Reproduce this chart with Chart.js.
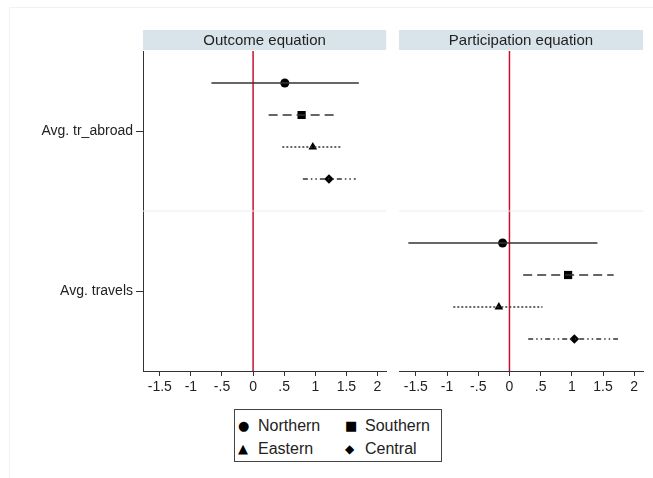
<!DOCTYPE html>
<html>
<head>
<meta charset="utf-8">
<script src="https://cdn.jsdelivr.net/npm/chart.js@4"></script>
<style>
  body { margin: 0; background: #fff; font-family: 'Liberation Sans', Arial, sans-serif; }
  #wrap { position: relative; width: 653px; height: 478px; overflow: hidden; }
  #frame { position: absolute; left: 9px; top: 7px; width: 700px; height: 500px; border: 1px solid #eef3f3; }
  canvas { position: absolute; top: 0; }
  #legend { position: absolute; left: 234px; top: 409px; width: 206px; height: 51px; border: 1px solid #444; }
  .item { position: absolute; font-size: 16px; color: #222; line-height: 18px; }
  .mk { position: absolute; font-family: 'DejaVu Sans'; color: #000; line-height: 18px; }
</style>
</head>
<body>
<div id="wrap">
  <div id="frame"></div>
  <canvas id="outcome" width="392" height="400" style="left:0"></canvas>
  <canvas id="participation" width="260" height="400" style="left:393px"></canvas>
  <div id="legend"></div>
</div>
<script>
const groups = ['Northern', 'Southern', 'Eastern', 'Central'];
const outcomePoint = [0.51, 0.78, 0.96, 1.22];
const outcomeLow = [-0.67, 0.25, 0.47, 0.80];
const outcomeHigh = [1.70, 1.31, 1.43, 1.65];
const participationPoint = [-0.11, 0.94, -0.17, 1.04];
const participationLow = [-1.62, 0.22, -0.90, 0.30];
const participationHigh = [1.41, 1.67, 0.53, 1.74];
const outcomeRows = [1, 2, 3, 4];
const participationRows = [6, 7, 8, 9];
const rowLabels = ['Avg. tr_abroad', 'Avg. travels'];
const labelRows = [2.5, 7.5];
const xTicks = [-1.5, -1, -0.5, 0, 0.5, 1, 1.5, 2];

const styles = ['circle', 'rect', 'triangle', 'rectRot'];
const radii = [4.5, 5.8, 5, 4.8];
const dashes = [[], [9, 5], [2, 2], [5, 3, 1.5, 3, 1.5, 3]];
const glyphs = ['\u25CF', '\u25A0', '\u25B2', '\u25C6'];

Chart.defaults.font.family = "'Liberation Sans', Arial, sans-serif";
Chart.defaults.color = '#222';

const stripBg = {
  id: 'stripBg',
  beforeDraw(chart) {
    const t = chart.titleBlock;
    if (!t) return;
    chart.ctx.save();
    chart.ctx.fillStyle = '#d9e4ea';
    chart.ctx.fillRect(t.left, t.top, t.width, t.height - 1);
    chart.ctx.restore();
  }
};

function fmt(v) {
  return v === 0 ? '0' : String(v).replace('0.', '.');
}

function makeChart(id, title, points, lows, highs, rows, showY, pad) {
  const ds = [];
  ds.push({ type: 'line', data: [{x: -1.77, y: 5}, {x: 2.14, y: 5}], borderColor: '#e6eef0', borderWidth: 1, pointRadius: 0 });
  groups.forEach((g, i) => {
    ds.push({
      type: 'line', label: g,
      data: [{x: lows[i], y: rows[i]}, {x: highs[i], y: rows[i]}],
      borderColor: '#333', borderWidth: 1.5, borderDash: dashes[i], pointRadius: 0
    });
  });
  ds.push({ type: 'line', data: [{x: 0, y: 0}, {x: 0, y: 10}], borderColor: '#c8102e', borderWidth: 1.5, pointRadius: 0 });
  groups.forEach((g, i) => {
    ds.push({
      type: 'scatter', label: g,
      data: [{x: points[i], y: rows[i]}],
      pointStyle: styles[i], pointRadius: radii[i],
      backgroundColor: '#000', borderColor: '#000', borderWidth: 0
    });
  });

  return new Chart(document.getElementById(id), {
    type: 'scatter',
    data: { datasets: ds },
    plugins: [stripBg],
    options: {
      responsive: false,
      animation: false,
      devicePixelRatio: 1,
      layout: { padding: pad },
      plugins: {
        legend: { display: false },
        tooltip: { enabled: false },
        title: {
          display: true, text: title, fullSize: false,
          font: { size: 15, weight: 'normal' }, color: '#222',
          padding: { top: 2, bottom: 1 }
        }
      },
      scales: {
        x: {
          type: 'linear', min: -1.77, max: 2.14,
          afterBuildTicks: s => { s.ticks = xTicks.map(v => ({ value: v })); },
          afterFit: s => { s.height = 29; },
          border: { display: true, color: '#333', width: 1 },
          grid: { drawOnChartArea: false, tickLength: 5, tickColor: '#333' },
          ticks: { font: { size: 14 }, color: '#222', padding: 3, maxRotation: 0, callback: v => fmt(v) }
        },
        y: {
          type: 'linear', min: 0, max: 10, reverse: true,
          display: showY,
          afterBuildTicks: s => { s.ticks = labelRows.map(v => ({ value: v })); },
          afterFit: s => { s.width = showY ? 143 : 0; },
          border: { display: true, color: '#333', width: 1 },
          grid: { drawOnChartArea: false, tickLength: 7, tickColor: '#333' },
          ticks: { font: { size: 14 }, color: '#222', padding: 3, callback: v => rowLabels[labelRows.indexOf(v)] }
        }
      }
    }
  });
}

makeChart('outcome', 'Outcome equation', outcomePoint, outcomeLow, outcomeHigh, outcomeRows, true,
  { top: 30, right: 5, left: 0, bottom: 0 });
makeChart('participation', 'Participation equation', participationPoint, participationLow, participationHigh, participationRows, false,
  { top: 30, right: 10, left: 6, bottom: 0 });

// legend
const legend = document.getElementById('legend');
const markX = [3, 110];
const textX = [23, 130];
const rowY = [7, 30];
const glyphSize = ['13px', '13px', '13px', '12px'];
groups.forEach((g, i) => {
  const col = i % 2, row = Math.floor(i / 2);
  const m = document.createElement('div');
  m.className = 'mk';
  m.style.left = markX[col] + 'px';
  m.style.top = rowY[row] + 'px';
  m.style.fontSize = glyphSize[i];
  m.textContent = glyphs[i];
  legend.appendChild(m);
  const t = document.createElement('div');
  t.className = 'item';
  t.style.left = textX[col] + 'px';
  t.style.top = rowY[row] + 'px';
  t.textContent = g;
  legend.appendChild(t);
});
</script>
</body>
</html>
